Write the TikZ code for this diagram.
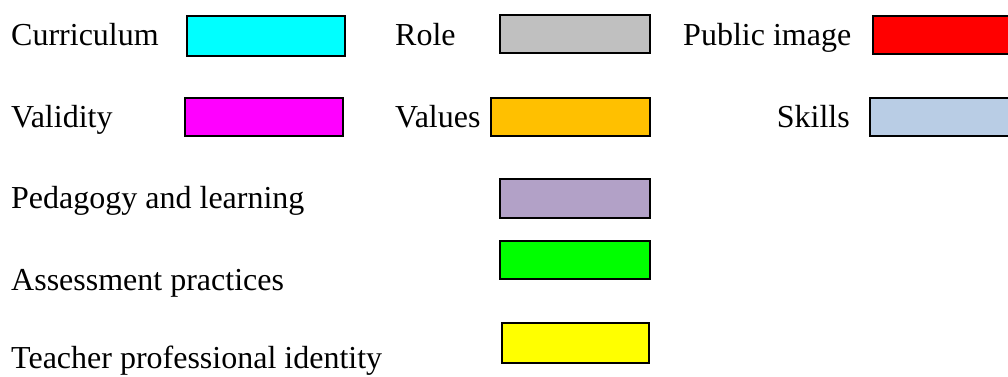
\documentclass[tikz,border=0pt]{standalone}
\usepackage{fontspec}
\setmainfont{Liberation Serif}
\definecolor{cCyan}{HTML}{00FFFF}
\definecolor{cGray}{HTML}{C0C0C0}
\definecolor{cRed}{HTML}{FF0000}
\definecolor{cMagenta}{HTML}{FF00FF}
\definecolor{cOrange}{HTML}{FFC000}
\definecolor{cLightBlue}{HTML}{B9CDE5}
\definecolor{cPurple}{HTML}{B2A1C7}
\definecolor{cGreen}{HTML}{00FF00}
\definecolor{cYellow}{HTML}{FFFF00}
\tikzset{
  lbl/.style={anchor=base west, inner sep=0pt, font=\fontsize{32}{36}\selectfont},
  lblr/.style={lbl, anchor=base east},
  swatch/.style={draw=black, line width=1.6pt, anchor=north west, inner sep=0pt, rectangle}
}
\begin{document}
\begin{tikzpicture}[x=1pt,y=-1pt]
\clip (0,0) rectangle (1008,376);
\fill[white] (0,0) rectangle (1008,376);
% row 1
\node[lbl] (tcur) at (11,45) {Curriculum};
\node[swatch, fill=cCyan, minimum width=158pt, minimum height=40pt] (bcur) at (186,15) {};
\node[lbl] (trole) at (395,45) {Role};
\node[swatch, fill=cGray, minimum width=150pt, minimum height=38pt] (brole) at (499,14) {};
\node[lbl] (tpub) at (683,45) {Public image};
\node[swatch, fill=cRed, minimum width=150pt, minimum height=38pt] (bpub) at (872,15) {};
% row 2
\node[lbl] (tval) at (11,127) {Validity};
\node[swatch, fill=cMagenta, minimum width=158pt, minimum height=38pt] (bval) at (184,97) {};
\node[lbl] (tvalues) at (395,127) {Values};
\node[swatch, fill=cOrange, minimum width=159pt, minimum height=38pt] (bvalues) at (490,97) {};
\node[lblr] (tskills) at (850,127) {Skills};
\node[swatch, fill=cLightBlue, minimum width=150pt, minimum height=38pt] (bskills) at (869,97) {};
% rows 3-5
\node[lbl] (tped) at (11,208) {Pedagogy and learning};
\node[swatch, fill=cPurple, minimum width=150pt, minimum height=39pt] (bped) at (499,178) {};
\node[lbl] (tass) at (11,290) {Assessment practices};
\node[swatch, fill=cGreen, minimum width=150pt, minimum height=38pt] (bass) at (499,240) {};
\node[lbl] (ttea) at (11,368) {Teacher professional identity};
\node[swatch, fill=cYellow, minimum width=147pt, minimum height=40pt] (btea) at (501,322) {};
\end{tikzpicture}
\end{document}
